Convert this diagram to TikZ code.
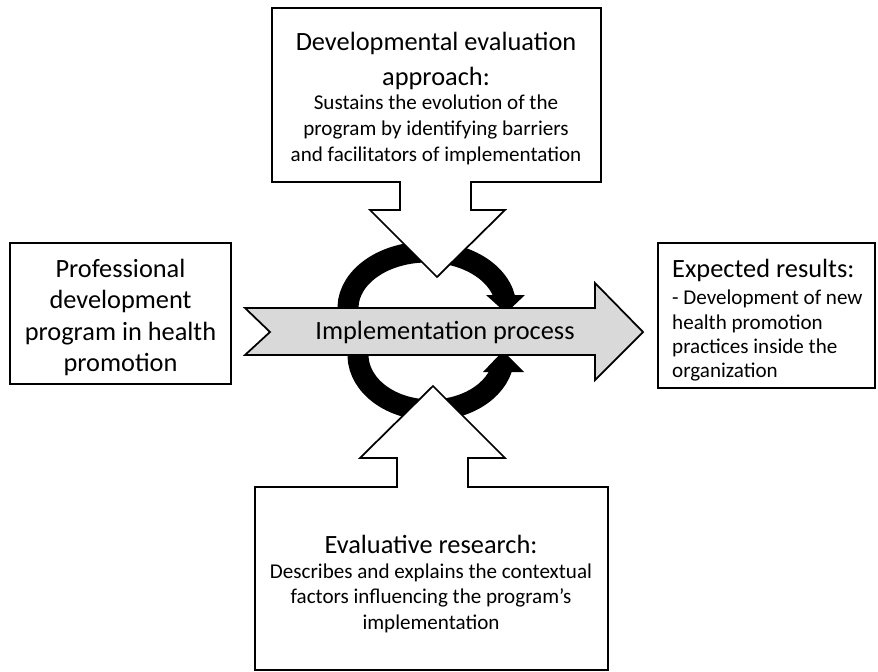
\documentclass[tikz,border=0pt]{standalone}
\usepackage{fontspec}
\setmainfont{Carlito}
\usetikzlibrary{arrows.meta,positioning}

\tikzset{
  box/.style={draw=black, line width=0.04cm, fill=white},
  outline/.style={draw=black, line width=0.035cm, fill=white, line join=miter},
  loopline/.style={line width=0.42cm},
  headfont/.style={font=\fontsize{15}{20}\selectfont, align=center},
  bodyfont/.style={font=\fontsize{12}{15}\selectfont, align=center},
}

\begin{document}
\begin{tikzpicture}[x=0.02cm, y=-0.02cm]

  \useasboundingbox (0,0) rectangle (878,672);

  %-------------------------
  % Feedback loops around the process
  %-------------------------
  \draw[loopline] (427,308) ++(170:79 and 56)
    arc[start angle=170, end angle=350, x radius=79, y radius=56];
  \fill (486,295) -- (525,295) -- (506,313) -- cycle;

  \draw[loopline] (431,355) ++(190:73 and 55)
    arc[start angle=190, end angle=14, x radius=73, y radius=55];
  \fill (483,372) -- (524,372) -- (503,351) -- cycle;

  %-------------------------
  % Main process arrow
  %-------------------------
  \draw[outline, fill=gray!30] (245,308) -- (595,308) -- (595,283) -- (643,332)
    -- (595,380) -- (595,355) -- (245,355) -- (270,332) -- cycle;
  \node[font=\fontsize{15}{18}\selectfont] (impl) at (445,332) {Implementation process};

  %-------------------------
  % Input and output boxes
  %-------------------------
  \node[box, minimum width=4.42cm, minimum height=2.82cm] (programbox) at (120.5,313.5) {};
  \node[align=center, font=\fontsize{15}{18}\selectfont] (program) at (120.5,317.5)
    {Professional\\development\\program in health\\promotion};

  \node[box, minimum width=4.34cm, minimum height=2.9cm] (resultbox) at (766.5,315.5) {};
  \node[anchor=west, align=left, font=\fontsize{12}{13.7}\selectfont] (results) at (666,320)
    {{\fontsize{15}{18}\selectfont Expected results:}\\[1.9pt]
     - Development of new\\health promotion\\practices inside the\\organization};

  %-------------------------
  % Top callout: developmental evaluation
  %-------------------------
  \draw[outline] (272,8) -- (601,8) -- (601,182) -- (471,182) -- (471,210)
    -- (505,210) -- (437,277) -- (370,210) -- (400,210) -- (400,182)
    -- (272,182) -- cycle;
  \node[headfont] (devtitle) at (436,61) {Developmental evaluation\\approach:};
  \node[bodyfont] (devtext) at (436,130)
    {Sustains the evolution of the\\program by identifying barriers\\and facilitators of implementation};

  %-------------------------
  % Bottom callout: evaluative research
  %-------------------------
  \draw[outline] (255,670) -- (255,487) -- (397,487) -- (397,458) -- (360,458)
    -- (433,386) -- (505,458) -- (468,458) -- (468,487) -- (608,487)
    -- (608,670) -- cycle;
  \node[headfont] (evaltitle) at (431,544) {Evaluative research:};
  \node[bodyfont, font=\fontsize{12}{14.5}\selectfont] (evaltext) at (431,598)
    {Describes and explains the contextual\\factors influencing the program’s\\implementation};

\end{tikzpicture}
\end{document}
